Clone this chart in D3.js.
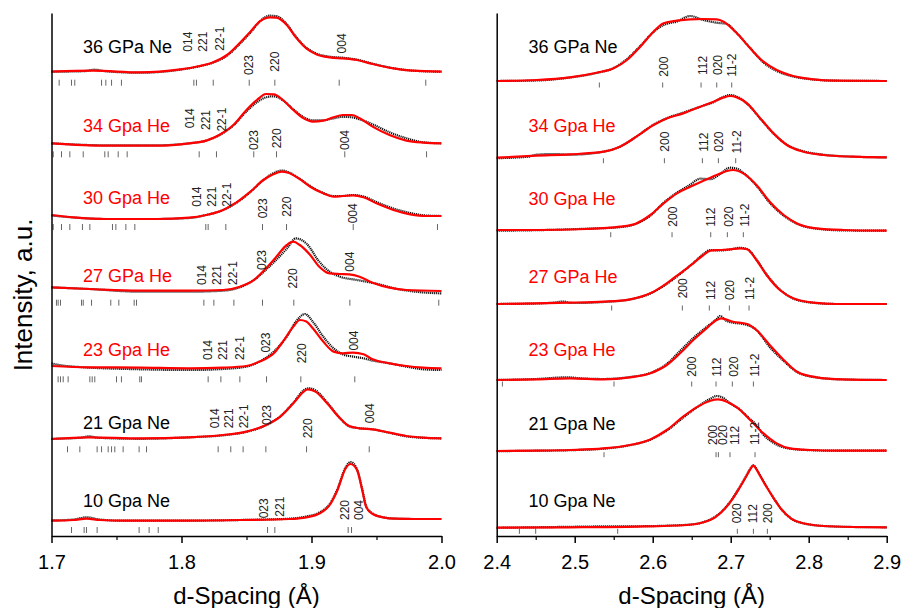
<!DOCTYPE html>
<html>
<head>
<meta charset="utf-8">
<script src="https://cdn.jsdelivr.net/npm/d3@7"></script>
<style>
  body { margin: 0; background: #fff; }
  svg text { font-family: "Liberation Sans", Arial, Helvetica, sans-serif; }
</style>
</head>
<body>
<svg id="chart" width="902" height="608"></svg>
<script>
// ---------- series (top to bottom) ----------
const seriesNames = ["36 GPa Ne", "34 Gpa He", "30 Gpa He", "27 GPa He", "23 Gpa He", "21 Gpa Ne", "10 Gpa Ne"];
const seriesColors = ["#000000", "#ff0000", "#ff0000", "#ff0000", "#ff0000", "#000000", "#000000"];

// vertical stacking offsets (a.u.)
const leftOffsets  = [46.43, 39.27, 32.0, 24.43, 16.77, 9.77, 1.7];
const rightOffsets = [45.5, 37.93, 30.53, 23.2, 15.6, 8.53, 0.87];

// height of the pressure label above each baseline (a.u.)
const leftNameRise  = [1.9, 1.16, 1.17, 0.94, 1.23, 0.9, 1.23];
const rightNameRise = [2.77, 2.5, 2.57, 2.07, 2.4, 2.07, 2.0];

// axis ticks
const leftMajor = [1.7, 1.8, 1.9, 2.0];
const leftMinor = [1.75, 1.85, 1.95];
const rightMajor = [2.4, 2.5, 2.6, 2.7, 2.8, 2.9];
const rightMinor = [2.45, 2.55, 2.65, 2.75, 2.85];

// ---------- left window, 1.7-2.0 Å : [d, intensity] ----------
const obsL36 = [[1.700,0],[1.725,0.05],[1.733,0.2],[1.741,0.05],[1.768,-0.1],[1.799,0.2],[1.814,0.55],[1.824,0.9],[1.835,1.6],[1.845,2.8],[1.853,3.9],[1.860,5.0],[1.868,5.6],[1.873,5.55],[1.881,4.75],[1.888,3.5],[1.896,2.4],[1.904,1.8],[1.914,1.5],[1.924,1.4],[1.935,1.2],[1.947,0.8],[1.963,0.35],[1.978,0.1],[2.000,0]];
const fitL36 = [[1.700,0],[1.732,0.10],[1.768,-0.07],[1.799,0.23],[1.814,0.57],[1.824,0.93],[1.835,1.67],[1.845,2.90],[1.853,4.00],[1.860,5.00],[1.868,5.43],[1.873,5.40],[1.881,4.67],[1.888,3.43],[1.896,2.33],[1.904,1.73],[1.914,1.43],[1.924,1.33],[1.935,1.17],[1.947,0.77],[1.963,0.33],[1.978,0.10],[2.000,0]];

const obsL34 = [[1.700,0],[1.742,-0.2],[1.781,-0.2],[1.806,0],[1.819,0.27],[1.829,0.8],[1.840,1.8],[1.850,3.2],[1.858,4.1],[1.865,4.6],[1.871,4.7],[1.878,4.3],[1.886,3.4],[1.894,2.6],[1.901,2.3],[1.909,2.3],[1.917,2.5],[1.924,2.65],[1.931,2.6],[1.937,2.4],[1.947,1.9],[1.960,1.1],[1.973,0.5],[1.986,0.1],[2.000,0]];
const fitL34 = [[1.700,0],[1.742,-0.23],[1.781,-0.23],[1.806,0],[1.819,0.27],[1.829,0.83],[1.840,1.83],[1.850,3.33],[1.858,4.33],[1.865,4.93],[1.871,4.90],[1.878,4.33],[1.886,3.33],[1.894,2.50],[1.901,2.17],[1.909,2.27],[1.917,2.60],[1.924,2.83],[1.931,2.83],[1.937,2.50],[1.947,1.67],[1.960,0.83],[1.973,0.27],[1.986,0.07],[2.000,0]];

const obsL30 = [[1.700,0.05],[1.717,-0.15],[1.742,-0.3],[1.781,-0.3],[1.806,-0.2],[1.819,0.1],[1.832,0.6],[1.842,1.3],[1.853,2.4],[1.863,3.6],[1.871,4.3],[1.877,4.55],[1.882,4.4],[1.890,3.8],[1.899,3.0],[1.909,2.3],[1.917,2.0],[1.924,2.0],[1.932,2.1],[1.940,1.95],[1.950,1.4],[1.963,0.75],[1.976,0.3],[1.988,0.05],[2.000,0]];
const fitL30 = [[1.700,0.10],[1.717,-0.13],[1.742,-0.30],[1.781,-0.30],[1.806,-0.17],[1.819,0.10],[1.832,0.60],[1.842,1.33],[1.853,2.43],[1.863,3.60],[1.871,4.20],[1.877,4.43],[1.882,4.33],[1.890,3.77],[1.899,2.93],[1.909,2.27],[1.917,1.93],[1.924,2.00],[1.932,2.07],[1.940,1.87],[1.950,1.27],[1.963,0.60],[1.976,0.17],[1.988,0],[2.000,0]];

const obsL27 = [[1.700,0.43],[1.729,0.27],[1.768,0.0],[1.806,0.0],[1.832,0.1],[1.845,0.45],[1.855,1.1],[1.865,2.2],[1.873,3.2],[1.881,4.3],[1.888,5.33],[1.896,4.83],[1.906,3.0],[1.914,2.0],[1.922,1.5],[1.935,1.17],[1.950,0.8],[1.965,0.3],[1.980,0.0],[2.000,-0.17]];
const fitL27 = [[1.700,0.43],[1.729,0.27],[1.768,0.10],[1.806,0.10],[1.832,0.17],[1.845,0.50],[1.855,1.10],[1.865,2.33],[1.873,3.50],[1.881,4.67],[1.886,5.00],[1.891,4.67],[1.899,3.67],[1.906,2.50],[1.914,1.83],[1.922,1.77],[1.929,1.73],[1.937,1.50],[1.947,0.90],[1.960,0.40],[1.973,0.17],[2.000,0.07]];

const obsL23 = [[1.700,0.5],[1.706,0.33],[1.717,0.17],[1.768,-0.1],[1.806,-0.17],[1.832,-0.07],[1.850,0.17],[1.860,0.67],[1.871,1.67],[1.881,3.17],[1.888,4.67],[1.895,5.43],[1.901,4.67],[1.909,3.17],[1.917,2.0],[1.924,1.4],[1.932,1.17],[1.940,1.0],[1.947,0.77],[1.960,0.5],[1.973,0.17],[1.986,-0.1],[2.000,-0.17]];
const fitL23 = [[1.700,0.23],[1.729,0.10],[1.768,0.07],[1.806,0],[1.832,0.07],[1.850,0.23],[1.860,0.67],[1.871,1.50],[1.878,2.67],[1.886,4.17],[1.891,4.83],[1.896,4.67],[1.901,4.00],[1.909,2.67],[1.917,1.67],[1.924,1.50],[1.932,1.57],[1.940,1.40],[1.947,0.90],[1.960,0.50],[1.973,0.23],[1.986,0.07],[2.000,0]];

const obsL21 = [[1.700,-0.05],[1.722,0.05],[1.729,0.2],[1.736,0.05],[1.768,-0.05],[1.806,0.1],[1.832,0.3],[1.850,0.65],[1.865,1.3],[1.876,2.2],[1.886,3.55],[1.894,4.8],[1.898,5.0],[1.903,4.8],[1.912,3.6],[1.922,2.0],[1.929,1.2],[1.937,1.0],[1.947,0.9],[1.960,0.55],[1.973,0.2],[1.986,0.05],[2.000,0]];
const fitL21 = [[1.700,-0.07],[1.729,0.10],[1.768,0],[1.806,0.10],[1.832,0.33],[1.850,0.67],[1.865,1.33],[1.876,2.17],[1.886,3.50],[1.894,4.67],[1.897,4.90],[1.903,4.67],[1.912,3.50],[1.922,2.00],[1.929,1.23],[1.937,1.00],[1.947,0.90],[1.960,0.57],[1.973,0.23],[1.986,0.07],[2.000,0]];

const obsL10 = [[1.700,-0.15],[1.717,-0.05],[1.727,0.17],[1.737,-0.05],[1.755,-0.17],[1.794,-0.17],[1.845,-0.1],[1.883,0.03],[1.896,0.25],[1.906,0.65],[1.914,1.5],[1.920,3.0],[1.926,5.1],[1.930,5.7],[1.935,5.0],[1.939,3.0],[1.942,1.3],[1.947,0.55],[1.955,0.17],[1.965,0.03],[1.980,0],[2.000,0]];
const fitL10 = [[1.700,-0.17],[1.717,-0.10],[1.727,0.03],[1.737,-0.10],[1.755,-0.17],[1.794,-0.17],[1.845,-0.10],[1.883,0],[1.896,0.17],[1.906,0.55],[1.914,1.40],[1.920,2.90],[1.926,5.00],[1.930,5.50],[1.935,4.90],[1.939,2.90],[1.942,1.23],[1.947,0.50],[1.955,0.17],[1.965,0.03],[1.980,0],[2.000,0]];

// reflection positions (Å)
const reflL36 = [1.7059,1.7154,1.7179,1.7385,1.7418,1.7462,1.7538,1.8095,1.8115,1.8244,1.8521,1.8718,1.9213,1.9879];
const reflL34 = [1.7013,1.7077,1.7141,1.7244,1.7410,1.7436,1.7513,1.7582,1.8136,1.8269,1.8556,1.8731,1.9256,1.9885];
const reflL30 = [1.7013,1.7077,1.7141,1.7238,1.7295,1.7469,1.7495,1.7572,1.7641,1.8187,1.8205,1.8341,1.8623,1.8808,1.9321,1.9969];
const reflL27 = [1.7038,1.7051,1.7069,1.7231,1.7244,1.7308,1.7456,1.7518,1.7636,1.7654,1.8172,1.8249,1.8403,1.8623,1.8864,1.9295,1.9979];
const reflL23 = [1.7051,1.7069,1.7090,1.7128,1.7295,1.7313,1.7333,1.7500,1.7538,1.7679,1.7692,1.8205,1.8303,1.8449,1.8654,1.8918,1.9333];
const reflL21 = [1.7123,1.7218,1.7351,1.7385,1.7436,1.7462,1.7487,1.7551,1.7674,1.7731,1.8282,1.8379,1.8474,1.8649,1.8962,1.9444];
const reflL10 = [1.7154,1.7251,1.7269,1.7351,1.7674,1.7751,1.7821,1.8662,1.8718,1.9282,1.9308];

// hkl labels: [text, d, height above baseline]
const hklL36 = [["014",1.8051,2.0],["221",1.8167,2.0],["22-1",1.8295,2.1],["023",1.8521,-0.33],["220",1.8718,0],["004",1.9231,1.83]];
const hklL34 = [["014",1.8064,1.5],["221",1.8185,1.33],["22-1",1.8308,1.17],["023",1.8559,-0.67],["220",1.8736,-0.5],["004",1.9256,-0.67]];
const hklL30 = [["014",1.8115,0.93],["221",1.8236,0.93],["22-1",1.8351,0.93],["023",1.8623,-0.23],["220",1.8808,-0.07],["004",1.9321,-0.73]];
const hklL27 = [["014",1.8154,0.67],["221",1.8269,0.67],["22-1",1.8397,0.67],["023",1.8615,2.17],["220",1.8859,0.33],["004",1.9295,2.0]];
const hklL23 = [["014",1.8205,0.83],["221",1.8321,0.83],["22-1",1.8449,0.83],["023",1.8646,1.57],["220",1.8923,0.5],["004",1.9328,1.77]];
const hklL21 = [["014",1.8256,1.0],["221",1.8367,1.0],["22-1",1.8479,1.0],["023",1.8654,1.33],["220",1.8974,0],["004",1.9449,1.5]];
const hklL10 = [["023",1.8633,0.07],["221",1.8756,0.23],["220",1.9256,-0.1],["004",1.9367,-0.1]];

// ---------- right window, 2.4-2.9 Å : [d, intensity] ----------
const obsR36 = [[2.400,0],[2.451,0.05],[2.494,0.35],[2.528,0.8],[2.550,1.3],[2.567,2.2],[2.584,3.5],[2.601,4.9],[2.614,5.6],[2.631,5.95],[2.648,6.5],[2.665,6.1],[2.682,5.83],[2.695,5.7],[2.708,4.77],[2.725,3.3],[2.742,1.85],[2.759,1.0],[2.780,0.45],[2.806,0.15],[2.836,0.03],[2.900,0]];
const fitR36 = [[2.400,0],[2.451,0.10],[2.494,0.37],[2.528,0.83],[2.550,1.27],[2.567,2.10],[2.584,3.43],[2.601,4.93],[2.614,5.77],[2.631,6.03],[2.648,6.17],[2.665,6.20],[2.682,6.17],[2.691,5.93],[2.708,4.77],[2.725,3.27],[2.742,1.93],[2.759,1.10],[2.780,0.50],[2.806,0.17],[2.836,0.03],[2.900,0]];

const obsR34 = [[2.400,-0.15],[2.440,0.0],[2.451,0.2],[2.474,0.27],[2.494,0.2],[2.537,0.5],[2.558,1.0],[2.579,2.0],[2.601,3.2],[2.618,3.85],[2.639,4.4],[2.661,5.0],[2.678,5.45],[2.691,6.0],[2.699,6.17],[2.708,6.0],[2.721,5.3],[2.738,3.8],[2.755,2.3],[2.772,1.2],[2.793,0.55],[2.819,0.2],[2.857,0],[2.900,-0.07]];
const fitR34 = [[2.400,-0.1],[2.451,0.10],[2.494,0.23],[2.537,0.50],[2.558,1.00],[2.579,2.00],[2.601,3.17],[2.618,3.83],[2.639,4.33],[2.661,5.00],[2.678,5.50],[2.691,5.93],[2.699,6.07],[2.708,5.93],[2.721,5.33],[2.738,3.83],[2.755,2.33],[2.772,1.17],[2.793,0.50],[2.819,0.17],[2.857,0],[2.900,-0.07]];

const obsR30 = [[2.400,0],[2.451,0.05],[2.515,0.2],[2.558,0.35],[2.579,0.7],[2.597,1.5],[2.614,2.8],[2.631,3.8],[2.648,4.6],[2.661,5.2],[2.674,5.15],[2.687,5.7],[2.699,6.3],[2.708,6.2],[2.716,5.8],[2.733,4.5],[2.750,2.8],[2.768,1.5],[2.785,0.7],[2.810,0.2],[2.844,0.03],[2.900,0]];
const fitR30 = [[2.400,0.07],[2.451,0.07],[2.515,0.17],[2.558,0.40],[2.579,0.73],[2.597,1.57],[2.614,2.73],[2.631,3.73],[2.648,4.40],[2.665,5.00],[2.682,5.57],[2.695,5.97],[2.703,6.07],[2.716,5.73],[2.733,4.57],[2.750,2.90],[2.768,1.57],[2.785,0.73],[2.810,0.23],[2.844,0.07],[2.900,0]];

const obsR27 = [[2.400,0],[2.451,0.05],[2.474,0.15],[2.485,0.25],[2.496,0.1],[2.537,0.2],[2.571,0.45],[2.597,1.05],[2.618,2.0],[2.635,3.0],[2.652,4.1],[2.665,5.0],[2.674,5.4],[2.686,5.35],[2.699,5.45],[2.712,5.62],[2.721,5.5],[2.733,4.45],[2.746,2.95],[2.763,1.45],[2.780,0.55],[2.806,0.12],[2.836,0],[2.900,0]];
const fitR27 = [[2.400,0],[2.451,0.07],[2.494,0.13],[2.537,0.23],[2.571,0.47],[2.597,1.07],[2.618,2.07],[2.635,3.07],[2.652,4.07],[2.665,4.90],[2.674,5.33],[2.686,5.40],[2.699,5.47],[2.712,5.57],[2.721,5.47],[2.733,4.40],[2.746,2.90],[2.763,1.40],[2.780,0.57],[2.806,0.13],[2.836,0],[2.900,0]];

const obsR23 = [[2.400,0],[2.451,0.1],[2.490,0.27],[2.510,0.15],[2.537,0.1],[2.571,0.3],[2.597,0.7],[2.618,1.6],[2.635,2.9],[2.652,4.2],[2.669,5.3],[2.682,6.1],[2.686,6.4],[2.695,5.9],[2.703,5.73],[2.716,5.6],[2.733,5.0],[2.750,3.3],[2.768,1.9],[2.785,0.8],[2.810,0.25],[2.844,0.05],[2.900,0]];
const fitR23 = [[2.400,0],[2.451,0.07],[2.494,0.17],[2.537,0.07],[2.571,0.27],[2.597,0.67],[2.618,1.50],[2.635,2.67],[2.652,4.00],[2.669,5.17],[2.682,6.00],[2.688,6.17],[2.703,5.83],[2.721,5.60],[2.733,5.00],[2.750,3.50],[2.768,2.00],[2.785,0.83],[2.810,0.27],[2.844,0.07],[2.900,0]];

const obsR21 = [[2.400,-0.05],[2.451,0],[2.494,0.05],[2.537,0.2],[2.571,0.55],[2.597,1.1],[2.618,2.0],[2.639,3.3],[2.656,4.3],[2.674,5.2],[2.682,5.47],[2.690,5.3],[2.699,4.75],[2.712,4.1],[2.725,3.15],[2.731,2.75],[2.742,1.6],[2.759,0.6],[2.776,0.2],[2.802,0.05],[2.836,0],[2.900,0]];
const fitR21 = [[2.400,-0.03],[2.451,0],[2.494,0.07],[2.537,0.23],[2.571,0.57],[2.597,1.13],[2.618,2.07],[2.639,3.40],[2.656,4.33],[2.674,5.00],[2.684,5.13],[2.695,4.90],[2.708,4.33],[2.725,3.07],[2.742,1.73],[2.759,0.73],[2.776,0.23],[2.802,0.07],[2.836,0],[2.900,0]];

const obsR10 = [[2.400,-0.05],[2.494,0.05],[2.520,0.08],[2.579,0.1],[2.644,0.25],[2.665,0.52],[2.680,1.05],[2.693,1.95],[2.702,2.85],[2.711,3.95],[2.720,5.15],[2.725,5.85],[2.729,6.2],[2.733,5.85],[2.738,5.15],[2.747,3.95],[2.756,2.8],[2.765,1.8],[2.778,0.85],[2.793,0.4],[2.819,0.13],[2.857,0.03],[2.900,0]];
const fitR10 = [[2.400,-0.03],[2.494,0],[2.579,0.07],[2.644,0.23],[2.665,0.50],[2.680,1.00],[2.693,1.90],[2.702,2.80],[2.711,3.90],[2.720,5.10],[2.725,5.80],[2.729,6.17],[2.733,5.80],[2.738,5.10],[2.747,3.90],[2.756,2.80],[2.765,1.80],[2.778,0.85],[2.793,0.40],[2.819,0.13],[2.857,0.03],[2.900,0]];

const reflR36 = [2.5316,2.6128,2.6620,2.6821,2.7013];
const reflR34 = [2.5368,2.6150,2.6637,2.6842,2.7064];
const reflR30 = [2.5462,2.6248,2.6744,2.6957,2.7162];
const reflR27 = [2.5474,2.6380,2.6726,2.6983,2.7235];
const reflR23 = [2.4073,2.5504,2.6500,2.6812,2.7021,2.7291];
const reflR21 = [2.5376,2.6812,2.6842,2.6991,2.7312];
const reflR10 = [2.4291,2.4500,2.5551,2.7085,2.7291,2.7470];

const hklR36 = [["200",2.6137,0.43],["112",2.6637,0.6],["020",2.6829,0.6],["11-2",2.7013,0.43]];
const hklR34 = [["200",2.6158,0.5],["112",2.6650,0.5],["020",2.6850,0.5],["11-2",2.7077,0.33]];
const hklR30 = [["200",2.6252,0.4],["112",2.6744,0.4],["020",2.6970,0.4],["11-2",2.7184,0.4]];
const hklR27 = [["200",2.6380,0.57],["112",2.6744,0.4],["020",2.6991,0.4],["11-2",2.7248,0.4]];
const hklR23 = [["200",2.6500,0.33],["112",2.6821,0.33],["020",2.7034,0.33],["11-2",2.7303,0.33]];
const hklR21 = [["200",2.6769,0.57],["020",2.6897,0.57],["112",2.7047,0.57],["11-2",2.7312,0.57]];
const hklR10 = [["020",2.7077,0.4],["112",2.7282,0.4],["200",2.7474,0.4]];

// ---------- drawing ----------
const svg = d3.select("#chart");
const W = 902, H = 608;
svg.append("rect").attr("width", W).attr("height", H).attr("fill", "#fff");

const axisY = 536, topY = 13;
const y = d3.scaleLinear().domain([0, 52.3]).range([axisY, topY]);

const panels = [
  {
    x: d3.scaleLinear().domain([1.7, 2.0]).range([51.5, 441.5]),
    offsets: leftOffsets, rise: leftNameRise, nameD: 1.7243,
    obs: [obsL36, obsL34, obsL30, obsL27, obsL23, obsL21, obsL10],
    fit: [fitL36, fitL34, fitL30, fitL27, fitL23, fitL21, fitL10],
    refl: [reflL36, reflL34, reflL30, reflL27, reflL23, reflL21, reflL10],
    hkl: [hklL36, hklL34, hklL30, hklL27, hklL23, hklL21, hklL10],
    reflTop: 0.8, reflLen: 0.6,
    major: leftMajor, minor: leftMinor
  },
  {
    x: d3.scaleLinear().domain([2.4, 2.9]).range([496.7, 886.7]),
    offsets: rightOffsets, rise: rightNameRise, nameD: 2.4408,
    obs: [obsR36, obsR34, obsR30, obsR27, obsR23, obsR21, obsR10],
    fit: [fitR36, fitR34, fitR30, fitR27, fitR23, fitR21, fitR10],
    refl: [reflR36, reflR34, reflR30, reflR27, reflR23, reflR21, reflR10],
    hkl: [hklR36, hklR34, hklR30, hklR27, hklR23, hklR21, hklR10],
    reflTop: 0.15, reflLen: 0.5,
    major: rightMajor, minor: rightMinor
  }
];

panels.forEach(p => {
  const g = svg.append("g");
  const x = p.x;

  // reflection tick marks
  p.refl.forEach((list, i) => {
    const off = p.offsets[i];
    g.append("g").selectAll("line").data(list).join("line")
      .attr("x1", d => x(d)).attr("x2", d => x(d))
      .attr("y1", y(off - p.reflTop)).attr("y2", y(off - p.reflTop - p.reflLen))
      .attr("stroke", "#666").attr("stroke-width", 1);
  });

  // observed (black, dotted) and fitted (red) profiles
  p.obs.forEach((pts, i) => {
    const off = p.offsets[i];
    const line = d3.line().x(d => x(d[0])).y(d => y(off + d[1])).curve(d3.curveMonotoneX);
    g.append("path").datum(pts).attr("d", line)
      .attr("fill", "none").attr("stroke", "#111").attr("stroke-width", 2.2)
      .attr("stroke-dasharray", "1.2,0.8");
    g.append("path").datum(p.fit[i]).attr("d", line)
      .attr("fill", "none").attr("stroke", "#ff0000").attr("stroke-width", 2.2);
  });

  // hkl labels
  p.hkl.forEach((list, i) => {
    const off = p.offsets[i];
    g.append("g").selectAll("text").data(list).join("text")
      .attr("transform", d => `translate(${x(d[1])},${y(off + d[2])}) rotate(-90)`)
      .attr("dy", "0.35em")
      .attr("font-size", 12).attr("fill", "#222")
      .text(d => d[0]);
  });

  // pressure / medium labels
  seriesNames.forEach((name, i) => {
    g.append("text")
      .attr("x", x(p.nameD)).attr("y", y(p.offsets[i] + p.rise[i]))
      .attr("font-size", 18).attr("fill", seriesColors[i])
      .text(name);
  });

  // x axis
  const ax = g.append("g").attr("transform", `translate(0,${axisY})`)
    .call(d3.axisBottom(x).tickValues(p.major).tickFormat(d3.format(".1f"))
      .tickSize(7).tickSizeOuter(0).tickPadding(12));
  ax.select(".domain").attr("stroke", "#000").attr("stroke-width", 1.5);
  ax.selectAll(".tick line").attr("stroke", "#000").attr("stroke-width", 1.5);
  ax.selectAll(".tick text").attr("font-size", 20).attr("fill", "#000")
    .attr("font-family", "Liberation Sans, Arial, sans-serif");

  const axm = g.append("g").attr("transform", `translate(0,${axisY})`)
    .call(d3.axisBottom(x).tickValues(p.minor).tickFormat("").tickSize(4).tickSizeOuter(0));
  axm.select(".domain").remove();
  axm.selectAll(".tick line").attr("stroke", "#000").attr("stroke-width", 1.2);

  // y axis line (no ticks)
  const ay = g.append("g").attr("transform", `translate(${x.range()[0]},0)`)
    .call(d3.axisLeft(y).tickValues([]).tickSizeOuter(0));
  ay.select(".domain").attr("stroke", "#000").attr("stroke-width", 1.5);

  // x title
  g.append("text")
    .attr("x", (x.range()[0] + x.range()[1]) / 2).attr("y", 604)
    .attr("text-anchor", "middle").attr("font-size", 24).attr("fill", "#000")
    .text("d-Spacing (Å)");
});

// y title
svg.append("text")
  .attr("transform", "translate(32,295) rotate(-90)")
  .attr("text-anchor", "middle").attr("font-size", 26).attr("fill", "#000")
  .text("Intensity, a.u.");
</script>
</body>
</html>
